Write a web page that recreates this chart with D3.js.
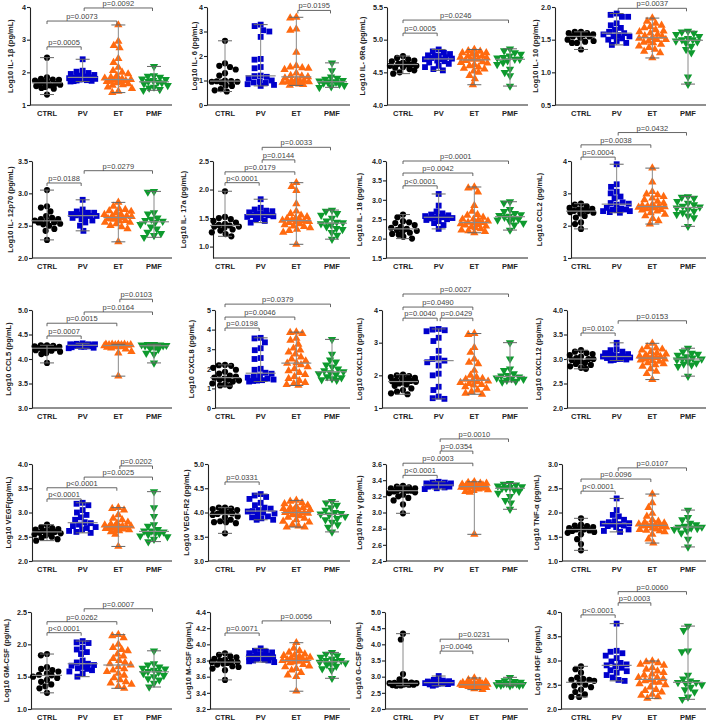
<!DOCTYPE html>
<html><head><meta charset="utf-8">
<script src="https://cdn.jsdelivr.net/npm/d3@7"></script>
<style>body{margin:0;background:#fff} svg{display:block;font-family:"Liberation Sans",Arial,sans-serif}</style>
</head><body><svg id="c" width="708" height="720"></svg>
<script>
const groups = ["CTRL","PV","ET","PMF"];
const titles = ["Log10 IL- 1β (pg/mL)","Log10 IL- 6 (pg/mL)","Log10 IL- 6Ra (pg/mL)","Log10 IL- 10 (pg/mL)",
"Log10 IL- 12p70 (pg/mL)","Log10 IL- 17a (pg/mL)","Log10 IL- 18 (pg/mL)","Log10 CCL2 (pg/mL)",
"Log10 CCL5 (pg/mL)","Log10 CXCL8 (pg/mL)","Log10 CXCL10 (pg/mL)","Log10 CXCL12 (pg/mL)",
"Log10 VEGF(pg/mL)","Log10 VEGF-R2 (pg/mL)","Log10 IFN- γ (pg/mL)","Log10 TNF-α (pg/mL)",
"Log10 GM-CSF (pg/mL)","Log10 M-CSF (pg/mL)","Log10 G-CSF (pg/mL)","Log10 HGF (pg/mL)"];
const domains = [[1,4],[0,4],[4,5.5],[0.5,2],[2,3.5],[0.8,2.5],[1.5,4],[1,4],[3,5],[0,5],[1,4],[2,4],
[2,4],[3,5],[2.4,3.6],[1,3],[1,2.5],[3.2,4.4],[2,5],[2,4]];
const tickVals = [[1,2,3,4],[0,1,2,3,4],[4,4.5,5,5.5],[0.5,1,1.5,2],[2,2.5,3,3.5],[1,1.5,2,2.5],[1.5,2,2.5,3,3.5,4],[1,2,3,4],
[3,3.5,4,4.5,5],[0,1,2,3,4,5],[1,2,3,4],[2,2.5,3,3.5,4],[2,2.5,3,3.5,4],[3,3.5,4,4.5,5],[2.4,2.6,2.8,3.0,3.2,3.4,3.6],[1,1.5,2,2.5,3],
[1,1.5,2,2.5],[3.2,3.4,3.6,3.8,4.0,4.2,4.4],[2,2.5,3,3.5,4,4.5,5],[2,2.5,3,3.5,4]];
const tickFmt = [".0f",".0f",".1f",".1f",".1f",".1f",".1f",".0f",".1f",".0f",".0f",".1f",".1f",".1f",".1f",".1f",".1f",".1f",".1f",".1f"];

const ctrlVals = [
[2.45,1.85,1.80,1.78,1.77,1.75,1.72,1.70,1.68,1.65,1.62,1.60,1.58,1.55,1.52,1.50,1.32],
[2.62,1.70,1.60,1.55,1.45,1.30,1.20,1.00,0.98,0.97,0.95,0.95,0.92,0.80,0.78,0.65,0.60,0.55],
[4.75,4.72,4.70,4.68,4.67,4.65,4.63,4.62,4.62,4.60,4.60,4.58,4.57,4.55,4.53,4.50,4.48],
[1.62,1.62,1.60,1.60,1.58,1.58,1.57,1.55,1.55,1.53,1.50,1.48,1.47,1.45,1.45,1.35],
[3.05,2.80,2.78,2.72,2.65,2.62,2.60,2.60,2.58,2.57,2.55,2.55,2.53,2.52,2.50,2.45,2.42,2.28],
[1.97,1.52,1.50,1.48,1.45,1.42,1.40,1.38,1.37,1.35,1.35,1.33,1.30,1.28,1.25,1.22,1.18],
[2.62,2.55,2.45,2.42,2.40,2.35,2.30,2.28,2.25,2.22,2.20,2.18,2.15,2.12,2.10,2.05,2.00],
[2.68,2.65,2.60,2.55,2.52,2.50,2.48,2.46,2.45,2.42,2.40,2.38,2.30,2.25,2.10,2.05,1.90],
[4.28,4.28,4.27,4.26,4.25,4.25,4.24,4.23,4.22,4.22,4.20,4.18,4.17,4.15,4.12,4.10,3.92],
[2.20,2.18,2.15,2.05,1.95,1.85,1.75,1.65,1.60,1.55,1.50,1.45,1.45,1.40,1.35,1.25,1.20,1.15,1.12],
[2.02,2.00,1.98,1.95,1.92,1.90,1.88,1.85,1.83,1.82,1.80,1.78,1.75,1.72,1.68,1.60,1.55,1.50,1.45,1.42],
[3.18,3.15,3.12,3.10,3.08,3.05,3.02,3.00,3.00,2.98,2.95,2.92,2.90,2.88,2.85,2.82,2.80],
[2.75,2.70,2.68,2.66,2.65,2.63,2.62,2.60,2.60,2.58,2.57,2.55,2.53,2.50,2.48,2.45,2.42],
[4.10,4.10,4.08,4.07,4.05,4.02,4.00,3.98,3.97,3.95,3.92,3.90,3.85,3.82,3.80,3.80,3.78,3.57],
[3.33,3.32,3.31,3.30,3.30,3.29,3.28,3.27,3.27,3.27,3.26,3.25,3.24,3.22,3.20,3.18,3.15,3.10,2.99],
[1.88,1.75,1.73,1.72,1.70,1.68,1.67,1.65,1.65,1.63,1.62,1.60,1.58,1.55,1.45,1.35,1.22],
[1.85,1.83,1.65,1.62,1.60,1.58,1.55,1.53,1.52,1.50,1.48,1.45,1.42,1.38,1.35,1.32,1.25],
[3.89,3.87,3.85,3.84,3.82,3.81,3.80,3.79,3.78,3.78,3.77,3.76,3.75,3.73,3.72,3.70,3.68,3.56],
[4.33,4.15,3.08,2.92,2.85,2.82,2.81,2.80,2.80,2.79,2.78,2.77,2.76,2.75,2.75,2.74,2.73,2.72],
[2.88,2.82,2.75,2.65,2.62,2.60,2.60,2.58,2.55,2.50,2.48,2.45,2.40,2.35,2.30,2.25,2.25]];

const pvVals = [
[2.40,2.05,2.02,1.98,1.95,1.92,1.90,1.88,1.86,1.85,1.84,1.82,1.80,1.79,1.78,1.76,1.75,1.74,1.73,1.72],
[3.28,3.22,3.05,3.00,2.78,1.88,1.85,1.55,1.50,1.20,1.18,1.15,1.10,1.00,0.95,0.92,0.90,0.85,0.82,0.78],
[4.85,4.82,4.80,4.78,4.76,4.75,4.75,4.73,4.72,4.71,4.70,4.70,4.68,4.67,4.65,4.63,4.60,4.58,4.55,4.53],
[1.90,1.88,1.85,1.85,1.75,1.72,1.68,1.65,1.62,1.60,1.58,1.57,1.55,1.55,1.52,1.50,1.48,1.45,1.42],
[2.90,2.75,2.72,2.70,2.70,2.68,2.68,2.67,2.66,2.65,2.65,2.63,2.62,2.60,2.58,2.55,2.50,2.42],
[1.83,1.68,1.65,1.63,1.62,1.60,1.58,1.57,1.56,1.55,1.55,1.53,1.52,1.50,1.48,1.45,1.42],
[3.15,2.85,2.70,2.65,2.62,2.60,2.58,2.56,2.55,2.55,2.53,2.52,2.50,2.48,2.45,2.40,2.35,2.25],
[3.90,3.28,3.20,3.05,3.00,2.90,2.85,2.72,2.70,2.68,2.65,2.55,2.52,2.50,2.50,2.48,2.45,2.45,2.42,2.40],
[4.32,4.31,4.30,4.30,4.30,4.29,4.29,4.29,4.28,4.28,4.28,4.27,4.27,4.26,4.26,4.25,4.25,4.24,4.23,4.22],
[3.58,3.55,3.35,3.05,2.95,2.55,2.50,2.00,1.95,1.80,1.75,1.65,1.60,1.55,1.50,1.45,1.42,1.40,1.38,1.35],
[3.42,3.40,3.38,3.35,3.15,3.05,2.75,2.52,2.50,2.45,2.40,2.30,2.05,2.00,1.65,1.55,1.35,1.30,1.28],
[3.33,3.20,3.18,3.15,3.12,3.10,3.08,3.08,3.06,3.05,3.05,3.04,3.03,3.02,3.00,3.00,2.99,2.98,2.97],
[3.20,3.18,3.15,3.05,3.00,2.95,2.90,2.85,2.80,2.78,2.75,2.72,2.70,2.68,2.65,2.62,2.60,2.58],
[4.38,4.35,4.32,4.28,4.20,4.15,4.10,4.08,4.05,4.03,4.02,4.00,3.98,3.95,3.92,3.90,3.88,3.85,3.85],
[3.38,3.37,3.37,3.36,3.36,3.35,3.35,3.35,3.34,3.34,3.34,3.33,3.33,3.32,3.32,3.31,3.30,3.29],
[2.29,2.05,1.95,1.92,1.85,1.82,1.80,1.78,1.77,1.76,1.75,1.73,1.72,1.70,1.65,1.62,1.60],
[2.05,2.03,2.02,1.95,1.92,1.88,1.85,1.75,1.72,1.70,1.68,1.67,1.65,1.63,1.62,1.60,1.58,1.55,1.50],
[3.95,3.92,3.91,3.90,3.89,3.88,3.87,3.86,3.86,3.85,3.84,3.84,3.83,3.82,3.81,3.80,3.80,3.79,3.78],
[3.02,2.90,2.88,2.86,2.85,2.84,2.83,2.82,2.82,2.81,2.80,2.80,2.79,2.78,2.77,2.76,2.75,2.72],
[3.76,3.20,3.18,3.15,3.10,3.05,2.98,2.95,2.92,2.90,2.88,2.85,2.80,2.78,2.75,2.70,2.65,2.60,2.58]];

const etVals = [
[3.45,2.95,2.82,2.75,2.42,2.30,2.15,2.05,2.00,1.95,1.90,1.85,1.82,1.80,1.78,1.78,1.76,1.75,1.73,1.72,1.70,1.68,1.65,1.62,1.60,1.55,1.50,1.42,1.38],
[3.58,3.55,3.10,3.05,2.15,1.60,1.55,1.52,1.50,1.45,1.30,1.20,1.18,1.15,1.10,1.05,1.00,1.00,0.98,0.95,0.95,0.92,0.90,0.88,0.85,0.83,0.80],
[4.85,4.83,4.82,4.80,4.80,4.78,4.77,4.75,4.75,4.73,4.72,4.71,4.70,4.70,4.68,4.66,4.65,4.64,4.62,4.60,4.58,4.56,4.55,4.52,4.50,4.45,4.40,4.31],
[1.83,1.78,1.75,1.72,1.70,1.68,1.65,1.63,1.62,1.60,1.58,1.56,1.55,1.53,1.52,1.50,1.50,1.48,1.46,1.45,1.43,1.40,1.38,1.35,1.32,1.30,1.22],
[2.86,2.80,2.76,2.75,2.73,2.72,2.70,2.68,2.67,2.65,2.65,2.64,2.63,2.62,2.61,2.60,2.60,2.58,2.57,2.55,2.55,2.53,2.50,2.48,2.45,2.25],
[2.12,2.05,1.98,1.75,1.62,1.58,1.55,1.52,1.50,1.49,1.48,1.47,1.46,1.45,1.44,1.43,1.42,1.40,1.38,1.36,1.35,1.33,1.30,1.28,1.25,1.04],
[3.33,3.30,3.20,2.85,2.70,2.62,2.60,2.55,2.50,2.50,2.48,2.45,2.42,2.41,2.40,2.38,2.36,2.35,2.32,2.30,2.28,2.25,2.22,2.20,2.18,2.15],
[3.78,3.35,3.05,2.98,2.95,2.90,2.85,2.80,2.75,2.70,2.65,2.62,2.60,2.60,2.58,2.57,2.55,2.55,2.52,2.50,2.48,2.45,2.40,2.35,2.30,2.22,2.15,2.05],
[4.30,4.30,4.30,4.30,4.29,4.29,4.29,4.29,4.28,4.28,4.28,4.28,4.28,4.27,4.27,4.27,4.26,4.26,4.25,4.25,4.24,4.22,4.20,4.15,4.12,3.65],
[3.87,3.85,3.80,3.55,3.45,3.25,3.05,2.95,2.85,2.75,2.60,2.50,2.40,2.30,2.28,2.20,2.10,2.00,1.90,1.80,1.70,1.60,1.50,1.40,1.30,1.25,1.20,1.15],
[3.28,3.25,2.85,2.70,2.50,2.40,2.35,2.15,2.00,1.95,1.90,1.88,1.85,1.82,1.80,1.78,1.75,1.72,1.70,1.65,1.60,1.55,1.50,1.45,1.42],
[3.32,3.25,3.22,3.20,3.18,3.15,3.12,3.10,3.08,3.06,3.05,3.05,3.03,3.02,3.00,3.00,2.98,2.96,2.95,2.92,2.90,2.88,2.85,2.80,2.75,2.70,2.58],
[3.10,3.08,3.05,2.95,2.88,2.85,2.80,2.78,2.76,2.74,2.72,2.72,2.71,2.70,2.70,2.69,2.68,2.68,2.67,2.66,2.65,2.64,2.62,2.60,2.55,2.30],
[4.25,4.23,4.20,4.18,4.15,4.12,4.10,4.10,4.08,4.06,4.05,4.03,4.02,4.00,4.00,3.98,3.96,3.95,3.93,3.90,3.88,3.85,3.82,3.80,3.75,3.72,3.70,3.70],
[3.38,3.37,3.36,3.36,3.35,3.35,3.34,3.34,3.34,3.33,3.33,3.33,3.32,3.32,3.32,3.31,3.31,3.31,3.30,3.30,3.29,3.28,3.27,3.26,3.25,2.73],
[2.38,2.20,2.10,1.98,1.92,1.85,1.82,1.80,1.78,1.76,1.75,1.75,1.74,1.73,1.72,1.71,1.70,1.68,1.66,1.65,1.63,1.62,1.60,1.55,1.45,1.37],
[2.15,2.13,2.10,2.00,1.95,1.92,1.90,1.85,1.82,1.78,1.75,1.72,1.70,1.68,1.65,1.62,1.60,1.58,1.55,1.52,1.48,1.45,1.42,1.40,1.38,1.35,1.32],
[4.02,3.95,3.92,3.90,3.88,3.87,3.86,3.85,3.84,3.83,3.82,3.82,3.81,3.80,3.80,3.79,3.78,3.77,3.75,3.73,3.72,3.70,3.68,3.65,3.62,3.60,3.42],
[2.96,2.90,2.86,2.84,2.82,2.80,2.79,2.78,2.78,2.77,2.76,2.76,2.75,2.75,2.74,2.74,2.73,2.73,2.72,2.72,2.71,2.70,2.69,2.68,2.66,2.62,2.60],
[2.99,2.97,2.95,2.92,2.90,2.85,2.82,2.78,2.75,2.72,2.70,2.65,2.65,2.62,2.60,2.58,2.55,2.55,2.52,2.50,2.45,2.40,2.38,2.35,2.30,2.28,2.25,2.22]];

const pmfVals = [
[2.18,1.90,1.88,1.85,1.80,1.78,1.75,1.72,1.70,1.68,1.65,1.60,1.55,1.52,1.48,1.45],
[1.72,1.40,1.15,1.10,1.05,1.00,0.98,0.95,0.93,0.92,0.90,0.85,0.80,0.75,0.72],
[4.86,4.83,4.80,4.78,4.75,4.73,4.72,4.70,4.70,4.68,4.65,4.62,4.55,4.50,4.45,4.29],
[1.63,1.62,1.60,1.58,1.55,1.52,1.50,1.50,1.48,1.47,1.45,1.40,1.35,1.30,0.93,0.82],
[3.03,3.02,2.70,2.68,2.62,2.60,2.58,2.57,2.55,2.52,2.48,2.45,2.40,2.38,2.35,2.32],
[1.64,1.62,1.58,1.55,1.50,1.45,1.43,1.42,1.40,1.38,1.35,1.32,1.30,1.25,1.20,1.13],
[2.95,2.92,2.75,2.70,2.65,2.62,2.60,2.58,2.55,2.52,2.50,2.48,2.45,2.40,2.35,2.22],
[2.90,2.88,2.85,2.75,2.70,2.65,2.60,2.58,2.55,2.50,2.45,2.40,2.35,2.30,2.25,1.98],
[4.30,4.30,4.29,4.29,4.28,4.28,4.28,4.27,4.27,4.26,4.25,4.22,4.20,4.12,4.10,3.92],
[3.50,2.75,2.45,2.35,2.20,2.10,2.00,1.90,1.85,1.80,1.75,1.70,1.60,1.55,1.50,1.45,1.42],
[3.00,2.50,2.20,2.15,2.05,2.00,1.98,1.95,1.92,1.90,1.88,1.85,1.82,1.80],
[3.22,3.15,3.12,3.10,3.08,3.05,3.02,3.00,3.00,2.98,2.95,2.92,2.90,2.88,2.85,2.65],
[3.43,3.10,2.92,2.75,2.72,2.65,2.62,2.62,2.60,2.58,2.57,2.55,2.52,2.50,2.45,2.40],
[4.23,4.20,4.15,4.10,4.05,4.00,3.98,3.97,3.95,3.92,3.88,3.85,3.80,3.75,3.70,3.60],
[3.36,3.35,3.34,3.33,3.32,3.31,3.30,3.30,3.28,3.26,3.24,3.20,3.15,3.12,3.04],
[2.05,1.90,1.85,1.78,1.75,1.72,1.70,1.70,1.68,1.67,1.65,1.62,1.58,1.45,1.29],
[1.90,1.70,1.68,1.65,1.63,1.62,1.60,1.58,1.57,1.55,1.52,1.50,1.47,1.45,1.40,1.34],
[3.90,3.88,3.86,3.84,3.82,3.80,3.80,3.79,3.78,3.77,3.76,3.75,3.73,3.70,3.68,3.58],
[2.98,2.88,2.85,2.83,2.82,2.80,2.79,2.78,2.78,2.77,2.76,2.75,2.74,2.73,2.72],
[3.71,3.62,3.20,3.18,2.70,2.62,2.58,2.55,2.55,2.53,2.50,2.45,2.40,2.35,2.25,2.20]];

// comparisons: [groupA, groupB, label, level (data units)]
const brackets = [
[[0,1,"p=0.0005",2.78],[0,2,"p=0.0073",3.57],[1,3,"p=0.0092",3.97]],
[[2,3,"p=0.0195",3.86]],
[[0,1,"p=0.0005",5.10],[0,3,"p=0.0246",5.30]],
[[1,3,"p=0.0037",1.98]],
[[0,1,"p=0.0188",3.16],[1,3,"p=0.0279",3.35]],
[[0,1,"p<0.0001",2.12],[0,2,"p=0.0179",2.31],[1,2,"p=0.0144",2.52],[1,3,"p=0.0033",2.74]],
[[0,1,"p<0.0001",3.36],[0,2,"p=0.0042",3.69],[0,3,"p=0.0001",4.0]],
[[0,1,"p=0.0004",4.12],[0,2,"p=0.0038",4.5],[1,3,"p=0.0432",4.88]],
[[0,1,"p=0.0007",4.47],[0,2,"p=0.0015",4.73],[1,3,"p=0.0164",4.96],[2,3,"p=0.0103",5.22]],
[[0,1,"p=0.0198",4.08],[0,2,"p=0.0046",4.64],[0,3,"p=0.0379",5.3]],
[[0,1,"p=0.0040",3.75],[1,2,"p=0.0429",3.75],[0,2,"p=0.0490",4.09],[0,3,"p=0.0027",4.49]],
[[0,1,"p=0.0102",3.53],[1,3,"p=0.0153",3.78]],
[[0,1,"p<0.0001",3.28],[0,2,"p<0.0001",3.51],[1,3,"p=0.0025",3.73],[2,3,"p=0.0202",3.96]],
[[0,1,"p=0.0331",4.63]],
[[0,1,"p<0.0001",3.46],[0,2,"p=0.0003",3.61],[1,2,"p=0.0354",3.76],[1,3,"p=0.0010",3.91]],
[[0,1,"p<0.0001",2.44],[0,2,"p=0.0096",2.69],[1,3,"p=0.0107",2.92]],
[[0,1,"p<0.0001",2.18],[0,2,"p=0.0262",2.35],[1,3,"p=0.0007",2.55]],
[[0,1,"p=0.0071",4.14],[1,3,"p=0.0056",4.29]],
[[1,2,"p=0.0046",3.79],[1,3,"p=0.0231",4.16]],
[[0,1,"p<0.0001",3.94],[1,2,"p=0.0003",4.19],[1,3,"p=0.0060",4.42]]];

// ---------- layout ----------
const rowTop = [7,161,310,464,612];
const rowBot = [105,258,408,561,709];
const colStart = [47,225,403,581];
const axisX = [30,207,387,555, 32,213,386,571, 32,215,382,567, 32,208,386,562, 31,210,385,561];
const labelX = [10,194,362,535, 10,183,359,539, 8,191,359,538, 8,186,359,536, 6,188,358,537];
const colors = ["#000000","#0000CC","#FF6A10","#0E9A2E"];
const FONT = '"Liberation Sans",Arial,sans-serif';

const svg = d3.select("#c");
const allVals = [ctrlVals, pvVals, etVals, pmfVals];

// beeswarm: place each point as close to the centre as possible without overlap,
// shrinking the spacing locally when the cluster would get wider than maxW
function swarm(vals, y, cx){
  const D0 = 6.2, maxW = 14;
  const pts = vals.map(v => ({v, py: y(v)})).sort((a,b) => b.v - a.v);
  const placed = [];
  for (const p of pts){
    let best = null;
    for (const f of [1, 0.8, 0.65, 0.5, 0.35]){
      const D = D0*f;
      const near = placed.filter(q => Math.abs(q.py - p.py) < D);
      const cands = [0];
      near.forEach(q => { const dx = Math.sqrt(D*D - (q.py-p.py)**2); cands.push(q.ox + dx, q.ox - dx); });
      const ok = cands.filter(cx0 => near.every(q => Math.hypot(q.ox - cx0, q.py - p.py) >= D - 1e-6));
      ok.sort((a,b) => Math.abs(a) - Math.abs(b) || a - b);
      if (ok.length && Math.abs(ok[0]) <= maxW){ best = ok[0]; break; }
    }
    if (best === null) best = 0;
    p.ox = best; placed.push(p);
  }
  pts.forEach(p => p.px = cx + p.ox);
  return pts;
}

const symbols = [
  d3.symbol().type(d3.symbolCircle).size(30),
  d3.symbol().type(d3.symbolSquare).size(34),
  d3.symbol().type(d3.symbolTriangle).size(30),
  d3.symbol().type(d3.symbolTriangle).size(30)
];

for (let k = 0; k < 20; k++){
  const r = Math.floor(k/4), c = k % 4;
  const g = svg.append("g");
  const y = d3.scaleLinear().domain(domains[k]).range([rowBot[r], rowTop[r]]);
  const x = d3.scalePoint().domain(groups).range([colStart[c], colStart[c]+107]);
  const xEnd = colStart[c] + 125;

  // y axis
  const ax = g.append("g").attr("transform", `translate(${axisX[k]},0)`)
    .call(d3.axisLeft(y).tickValues(tickVals[k]).tickFormat(d3.format(tickFmt[k])).tickSize(3).tickSizeOuter(0));
  ax.select(".domain").attr("stroke","#222").attr("stroke-width",1.1);
  ax.selectAll(".tick line").attr("stroke","#222").attr("stroke-width",1.1);
  ax.selectAll(".tick text").attr("font-family",FONT).attr("font-size",7.2).attr("font-weight","bold").attr("fill","#222").attr("x",-4);

  // x axis line
  g.append("line").attr("x1",axisX[k]).attr("x2",xEnd).attr("y1",rowBot[r]).attr("y2",rowBot[r])
    .attr("stroke","#222").attr("stroke-width",1.1);
  groups.forEach(gr => {
    g.append("text").attr("x",x(gr)).attr("y",rowBot[r]+10.5).attr("text-anchor","middle")
      .attr("font-family",FONT).attr("font-size",7.5).attr("font-weight","bold").attr("fill","#222").text(gr);
  });

  // y title
  const ym = (rowTop[r]+rowBot[r])/2;
  g.append("text").attr("transform",`translate(${labelX[k]},${ym}) rotate(-90)`).attr("text-anchor","middle")
    .attr("dy","0.35em").attr("font-family",FONT).attr("font-size",7.5).attr("font-weight","bold").attr("fill","#222").text(titles[k]);

  // points
  groups.forEach((gr, gi) => {
    const vals = allVals[gi][k];
    const cx = x(gr);
    const pts = swarm(vals, y, cx);
    g.append("g").selectAll("path").data(pts).join("path")
      .attr("d", symbols[gi])
      .attr("transform", d => `translate(${d.px},${d.py})${gi===3?" rotate(180)":""}`)
      .attr("fill", colors[gi]);
    // median & range
    const med = d3.median(vals), [mn, mx] = d3.extent(vals);
    const lc = "#8a8a8a";
    g.append("line").attr("x1",cx).attr("x2",cx).attr("y1",y(mn)).attr("y2",y(mx)).attr("stroke",lc).attr("stroke-width",1);
    [mn, mx].forEach(v => g.append("line").attr("x1",cx-7).attr("x2",cx+7).attr("y1",y(v)).attr("y2",y(v)).attr("stroke","#666").attr("stroke-width",1));
    g.append("line").attr("x1",cx-15).attr("x2",cx+15).attr("y1",y(med)).attr("y2",y(med)).attr("stroke",lc).attr("stroke-width",1.2);
  });

  // brackets
  brackets[k].forEach(([a,b,lab,lev]) => {
    const x1 = x(groups[a]) + (a>0?1.5:0), x2 = x(groups[b]) - 1.5, yy = y(lev);
    g.append("path").attr("d",`M${x1},${yy+3}V${yy}H${x2}V${yy+3}`).attr("fill","none").attr("stroke","#555").attr("stroke-width",0.9);
    g.append("text").attr("x",(x1+x2)/2).attr("y",yy-2).attr("text-anchor","middle")
      .attr("font-family",FONT).attr("font-size",7.5).attr("fill","#444").text(lab);
  });
}
</script></body></html>
